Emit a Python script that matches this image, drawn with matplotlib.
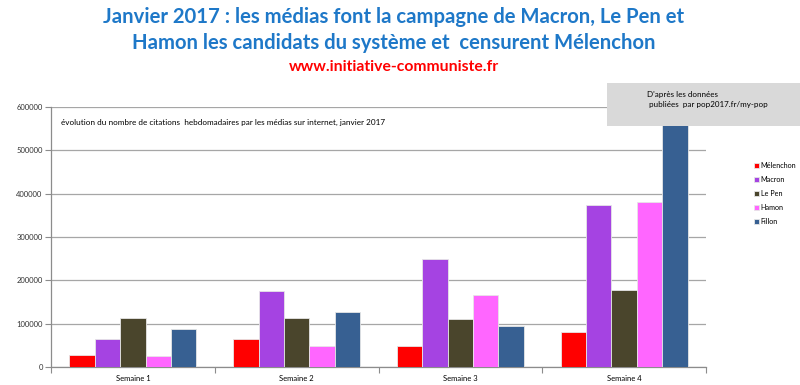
import numpy as np
import matplotlib.pyplot as plt
from matplotlib.patches import Rectangle

plt.rcParams['font.family'] = ['Lato', 'DejaVu Sans']

# -----------------------------
# Data
# -----------------------------

weeks = ["Semaine 1", "Semaine 2", "Semaine 3", "Semaine 4"]

candidates = ["Mélenchon", "Macron", "Le Pen", "Hamon", "Fillon"]

melenchon = [28000, 65000, 48500, 81000]
macron = [65000, 175000, 249000, 375000]
le_pen = [114000, 114000, 111500, 177000]
hamon = [25000, 48500, 165000, 381000]
fillon = [87000, 126000, 94000, 620000]

series = [melenchon, macron, le_pen, hamon, fillon]

colors = ["#FF0000", "#A543E2", "#4A452C", "#FF66FF", "#376092"]

yticks = [0, 100000, 200000, 300000, 400000, 500000, 600000]


# -----------------------------
# Figure
# -----------------------------

fig = plt.figure(figsize=(8, 3.85), dpi=100)

ax = fig.add_axes([0.06375, 0.0468, 0.81875, 0.6752])

x = np.arange(len(weeks))
w = 0.155

for j, (vals, col) in enumerate(zip(series, colors)):
    ax.bar(x + (j - 2) * w, vals, width=w, color=col, edgecolor="#E6E6E6",
           linewidth=0.6, label=candidates[j], zorder=3)

ax.set_xlim(-0.5, 3.5)
ax.set_ylim(0, 600000)
ax.set_yticks(yticks)
ax.set_yticklabels([str(v) for v in yticks], fontsize=5.5, color="#333333")

# category labels between boundary ticks
ax.set_xticks(np.arange(-0.5, 4, 1))
ax.set_xticklabels([])
ax.set_xticks(x, minor=True)
ax.set_xticklabels(weeks, minor=True, fontsize=5.5)
ax.tick_params(axis="x", which="minor", length=0, pad=6)
ax.tick_params(axis="x", which="major", length=4, color="#8C8C8C", width=0.8)
ax.tick_params(axis="y", length=4, color="#8C8C8C", width=0.8, pad=2)

ax.grid(axis="y", color="#A6A6A6", linewidth=0.9, zorder=0)

for side in ["top", "right"]:
    ax.spines[side].set_visible(False)
for side in ["left", "bottom"]:
    ax.spines[side].set_color("#8C8C8C")
    ax.spines[side].set_linewidth(0.9)

ax.text(0.016, 0.955,
        "évolution du nombre de citations  hebdomadaires par les médias sur internet, janvier 2017",
        transform=ax.transAxes, fontsize=5.9, va="top", ha="left")

ax.legend(loc="upper left", bbox_to_anchor=(0.938, 0.588),
          bbox_transform=fig.transFigure, frameon=False, fontsize=5.2,
          handlelength=0.7, handleheight=0.7, handletextpad=0.25,
          labelspacing=0.95, borderpad=0)


# -----------------------------
# Titles
# -----------------------------

fig.text(0.4925, 0.956, "Janvier 2017 : les médias font la campagne de Macron, Le Pen et",
         ha="center", va="center", fontsize=14.6, fontweight="bold", color="#1E78C8")
fig.text(0.4925, 0.888, "Hamon les candidats du système et  censurent Mélenchon",
         ha="center", va="center", fontsize=14.6, fontweight="bold", color="#1E78C8")
fig.text(0.4925, 0.826, "www.initiative-communiste.fr",
         ha="center", va="center", fontsize=11.3, fontweight="bold", color="#FF0000")

# gray source box over the top of the plot
fig.patches.append(Rectangle((0.759, 0.673), 0.241, 0.111, transform=fig.transFigure,
                             facecolor="#D9D9D9", edgecolor="none", zorder=10))
fig.text(0.809, 0.742, "D'après les données\n publiées  par pop2017.fr/my-pop",
         ha="left", va="center", fontsize=5.8, linespacing=1.5, zorder=11)

fig.savefig("out.png", dpi=100)
